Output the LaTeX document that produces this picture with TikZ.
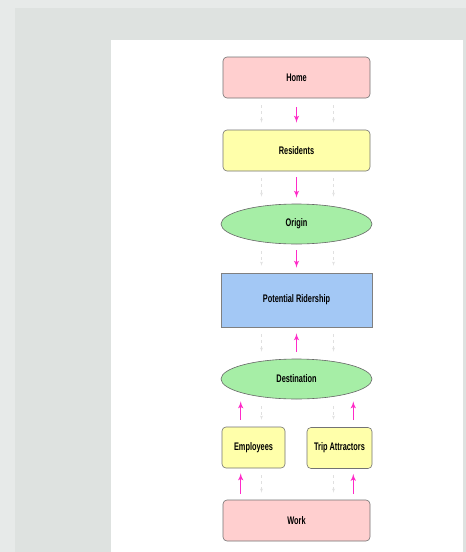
\documentclass[tikz,border=0pt]{standalone}
\usepackage{fontspec}
\setmainfont{Liberation Sans}[FakeStretch=0.67]
\usetikzlibrary{arrows,shapes.geometric}

\definecolor{outergrey}{HTML}{E7EAE9}
\definecolor{innergrey}{HTML}{DEE2E0}
\definecolor{placepink}{HTML}{FFCFCF}
\definecolor{peopleyellow}{HTML}{FFFFAA}
\definecolor{ovalgreen}{HTML}{A6EEA6}
\definecolor{riderblue}{HTML}{A3C8F5}
\definecolor{linkpink}{HTML}{FF2BC8}

\begin{document}
\begin{tikzpicture}[x=1pt,y=-1pt,>=latex',semithick,
                    font=\bfseries\fontsize{11}{13}\selectfont]
  \tikzstyle{block}=[draw=black!55,rounded corners=4pt,minimum width=147pt,
                     minimum height=41pt,inner sep=0pt]
  \tikzstyle{smallblock}=[block,fill=peopleyellow,minimum width=63pt]
  \tikzstyle{oval}=[ellipse,draw=black!60,fill=ovalgreen,minimum width=151pt,
                    minimum height=40pt,inner sep=0pt]
  \tikzstyle{plainbox}=[draw=black!50,fill=riderblue,minimum width=151pt,
                        minimum height=54pt,inner sep=0pt]
  \tikzstyle{pinkarrow}=[->,color=linkpink,line width=1.4pt]
  \tikzstyle{faint}=[->,color=black!12,thin,dashed,shorten <=7pt,shorten >=7pt]

  % panels
  \fill[outergrey] (0,0) rectangle (466,552);
  \fill[innergrey] (15,8) rectangle (466,552);
  \fill[white] (111,40) rectangle (463,552);
  \useasboundingbox (0,0) rectangle (466,552);

  \node[block,fill=placepink]    (home)        at (296.5,77.5)                     {Home};
  \node[block,fill=peopleyellow] (residents)   [node distance=73pt,below of=home]   {Residents};
  \node[oval]                    (origin)      [node distance=73.5pt,below of=residents] {Origin};
  \node[plainbox]                (ridership)   [node distance=76pt,below of=origin] {Potential Ridership};
  \node[oval]                    (destination) [node distance=79pt,below of=ridership] {Destination};
  \node[smallblock]              (employees)   [node distance=68.5pt,below of=destination,xshift=-43pt] {Employees};
  \node[smallblock,minimum width=65pt] (attractors) [node distance=69pt,below of=destination,xshift=43pt] {Trip Attractors};
  \node[block,fill=placepink]    (work)        [node distance=141.5pt,below of=destination] {Work};

  % main links
  \draw[pinkarrow,shorten <=9pt,shorten >=7pt] (home) -- (residents);
  \draw[pinkarrow,shorten <=6pt,shorten >=6pt] (residents) -- (origin);
  \draw[pinkarrow,shorten <=6pt,shorten >=5pt] (origin) -- (ridership);
  \draw[pinkarrow,shorten <=7pt,shorten >=6pt] (destination) -- (ridership);
  \draw[pinkarrow,shorten <=7pt,shorten >=2pt] ([xshift=19pt]employees.north west)
    -- ([xshift=19pt]employees.north west |- destination.south);
  \draw[pinkarrow,shorten <=7pt,shorten >=2pt] ([xshift=-19pt]attractors.north east)
    -- ([xshift=-19pt]attractors.north east |- destination.south);
  \draw[pinkarrow,shorten <=6pt,shorten >=5pt] ([xshift=19pt]employees.south west |- work.north)
    -- ([xshift=19pt]employees.south west);
  \draw[pinkarrow,shorten <=6pt,shorten >=5pt] ([xshift=-19pt]attractors.south east |- work.north)
    -- ([xshift=-19pt]attractors.south east);

  % faint guide lines
  \foreach \upper/\lower in {home/residents,residents/origin,origin/ridership,ridership/destination}
    \foreach \dx in {-35,37}
      \draw[faint] ([xshift=\dx pt]\upper.south) -- ([xshift=\dx pt]\lower.north);
  \foreach \dx in {-35,37} {
    \draw[faint] ([xshift=\dx pt]destination.south) -- ([xshift=\dx pt]destination.south |- employees.north);
    \draw[faint] ([xshift=\dx pt]work.north |- employees.south) -- ([xshift=\dx pt]work.north);
  }
\end{tikzpicture}
\end{document}
